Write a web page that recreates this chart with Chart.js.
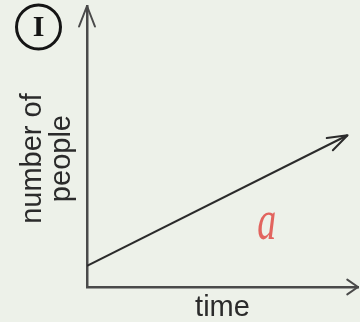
<!DOCTYPE html>
<html>
<head>
<meta charset="utf-8">
<script src="https://cdn.jsdelivr.net/npm/chart.js@4"></script>
<style>
  body { margin: 0; background: #edf1e9; }
  #wrap { width: 360px; height: 322px; position: relative; }
</style>
</head>
<body>
<div id="wrap"><canvas id="chart"></canvas></div>
<script>
/* data */
const time = [0, 10];
const people = [7.5, 54];
const xTitle = 'time';
const yTitle = ['number of   ', 'people   '];
const panelTag = 'I';
const curveTag = 'a';

const ink = '#2b2b2b';

/* draw an open arrow head at (x, y) pointing along angle */
function arrowHead(ctx, x, y, angle, len, spread) {
    ctx.beginPath();
    ctx.moveTo(x - len * Math.cos(angle - spread), y - len * Math.sin(angle - spread));
    ctx.lineTo(x, y);
    ctx.lineTo(x - len * Math.cos(angle + spread), y - len * Math.sin(angle + spread));
    ctx.stroke();
}

const sketchBits = {
    id: 'sketchBits',
    afterDraw(chart) {
        const ctx = chart.ctx;
        const area = chart.chartArea;
        const xs = chart.scales.x;
        const ys = chart.scales.y;
        ctx.save();
        ctx.lineCap = 'round';
        ctx.lineJoin = 'round';

        // axis arrows
        ctx.strokeStyle = '#4a4a4a';
        ctx.lineWidth = 2;
        arrowHead(ctx, area.left, area.top, -Math.PI / 2, 22, 0.37);
        arrowHead(ctx, area.right, area.bottom, 0, 13, 0.6);

        // arrow on the line end
        const pts = chart.getDatasetMeta(0).data;
        const a = pts[pts.length - 2], b = pts[pts.length - 1];
        ctx.strokeStyle = ink;
        arrowHead(ctx, b.x, b.y, Math.atan2(b.y - a.y, b.x - a.x), 21, 0.33);

        // circled panel tag
        ctx.strokeStyle = '#151515';
        ctx.lineWidth = 3;
        ctx.beginPath();
        ctx.arc(38.5, 27, 22, 0, Math.PI * 2);
        ctx.stroke();
        ctx.fillStyle = '#151515';
        ctx.font = 'bold 30px "Liberation Serif"';
        ctx.textAlign = 'center';
        ctx.textBaseline = 'middle';
        ctx.fillText(panelTag, 38.5, 28);

        // red handwritten label under the line
        ctx.translate(xs.getPixelForValue(6.9), ys.getPixelForValue(21));
        ctx.scale(0.95, 1.45);
        ctx.fillStyle = '#e2645e';
        ctx.font = 'italic 40px "Liberation Serif"';
        ctx.fillText(curveTag, 0, -3);
        ctx.restore();
    }
};

new Chart(document.getElementById('chart'), {
    type: 'scatter',
    data: {
        datasets: [{
            data: time.map((t, i) => ({x: t, y: people[i]})),
            showLine: true,
            borderColor: ink,
            borderWidth: 2,
            pointRadius: 0
        }]
    },
    options: {
        responsive: true,
        maintainAspectRatio: false,
        animation: false,
        layout: {padding: {top: 6, right: 2, left: 0, bottom: 0}},
        plugins: {legend: {display: false}, tooltip: {enabled: false}},
        scales: {
            x: {
                min: 0,
                max: 10.4,
                grid: {display: false, drawTicks: false},
                ticks: {display: false},
                border: {display: true, color: '#4a4a4a', width: 2.5},
                title: {
                    display: true,
                    text: xTitle,
                    color: ink,
                    font: {family: '"Liberation Sans", Arial', size: 29, lineHeight: 1},
                    padding: {top: 6, bottom: 0}
                }
            },
            y: {
                min: 0,
                max: 100,
                grid: {display: false, drawTicks: false},
                ticks: {display: false},
                border: {display: true, color: '#4a4a4a', width: 2.5},
                title: {
                    display: true,
                    text: yTitle,
                    color: ink,
                    font: {family: '"Liberation Sans", Arial', size: 29, lineHeight: 1},
                    padding: {top: 18, bottom: 11}
                }
            }
        }
    },
    plugins: [sketchBits]
});
</script>
</body>
</html>
